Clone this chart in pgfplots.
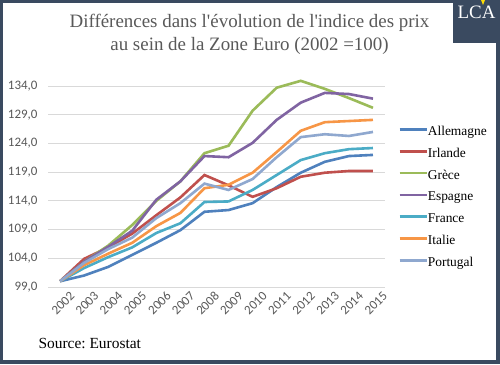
\documentclass[border=0pt]{standalone}
\usepackage{pgfplots}
\pgfplotsset{compat=1.18}
\usepackage{fontspec}
\setmainfont{Liberation Serif}[Ligatures=TeXOff]
\newfontfamily\carlito{Carlito}
\frenchspacing
\definecolor{navy}{RGB}{58,74,96}
\definecolor{txtgray}{RGB}{89,89,89}
\definecolor{gridgray}{RGB}{217,217,217}
\definecolor{cAll}{RGB}{79,129,189}
\definecolor{cIrl}{RGB}{192,80,77}
\definecolor{cGre}{RGB}{155,187,89}
\definecolor{cEsp}{RGB}{128,100,162}
\definecolor{cFra}{RGB}{75,172,198}
\definecolor{cIta}{RGB}{247,150,70}
\definecolor{cPor}{RGB}{143,168,207}
\begin{document}
\begin{tikzpicture}
\begin{scope}[x=1bp,y=1bp]
\useasboundingbox (0,0) rectangle (500,364);
\fill[navy] (0,0) rectangle (500,364);
\fill[white] (3,4) rectangle (496,361);
\fill[navy] (453,321) rectangle (500,364);
\fill[yellow!80!orange] (481,364) -- (485,364) -- (483,359) -- cycle;
\node[text=white, font=\fontsize{19}{20}\selectfont] at (476.5,352) {LCA};
\node[text=txtgray, align=center, font=\fontsize{19}{23}\selectfont] at (249.5,330) {Différences dans l'évolution de l'indice des prix\\au sein de la Zone Euro (2002 =100)};
\node[anchor=west, font=\fontsize{15.5}{17}\selectfont] at (35,21) {Source: Eurostat};
\end{scope}
\begin{axis}[
  at={(48bp,77bp)}, anchor=south west,
  scale only axis, width=337bp, height=201bp,
  xmin=2001.5, xmax=2015.5, ymin=99, ymax=134,
  clip=false,
  xtick={2002,...,2015},
  ytick={99,104,...,134},
  axis line style={draw=none},
  major tick length=0pt,
  ymajorgrids, grid style={draw=gridgray, line width=0.8bp},
  /pgf/number format/assume math mode=true,
  tick label style={font=\carlito\fontsize{13}{14}\selectfont, text=txtgray},
  xticklabel style={/pgf/number format/1000 sep={}, rotate=45, anchor=north east, inner sep=1bp, yshift=-8bp, xshift=5bp},
  yticklabel style={/pgf/number format/.cd, fixed, fixed zerofill, precision=1, use comma, /tikz/.cd, xshift=-7bp},
  legend style={draw=none, fill=none, at={(axis description cs:1.0386,0.80)}, anchor=north west,
    font=\fontsize{13.5}{15}\selectfont, row sep=9.8bp, inner sep=0pt,
    nodes={inner sep=0pt, text height=9bp, text depth=3bp},
    /tikz/every even column/.append style={column sep=3bp}},
  legend cell align=left,
  legend image code/.code={\draw[#1, line width=2.6bp] (0bp,3bp) -- (27bp,3bp);},
  every axis plot/.append style={line width=2.6bp},
]
\addplot[cAll] coordinates {(2002,100)(2003,101.0)(2004,102.5)(2005,104.6)(2006,106.7)(2007,108.9)(2008,112.1)(2009,112.4)(2010,113.6)(2011,116.4)(2012,118.9)(2013,120.8)(2014,121.8)(2015,122.0)};
\addplot[cIrl] coordinates {(2002,100)(2003,103.9)(2004,105.9)(2005,108.3)(2006,111.5)(2007,114.6)(2008,118.5)(2009,116.7)(2010,114.7)(2011,116.2)(2012,118.2)(2013,118.9)(2014,119.2)(2015,119.2)};
\addplot[cGre] coordinates {(2002,100)(2003,103.4)(2004,106.2)(2005,109.8)(2006,114.0)(2007,117.4)(2008,122.3)(2009,123.6)(2010,129.7)(2011,133.7)(2012,134.9)(2013,133.5)(2014,131.9)(2015,130.2)};
\addplot[cEsp] coordinates {(2002,100)(2003,103.4)(2004,106.0)(2005,108.8)(2006,114.2)(2007,117.4)(2008,121.8)(2009,121.6)(2010,124.1)(2011,128.1)(2012,131.1)(2013,132.8)(2014,132.6)(2015,131.8)};
\addplot[cFra] coordinates {(2002,100)(2003,102.3)(2004,104.2)(2005,105.9)(2006,108.4)(2007,110.1)(2008,113.8)(2009,113.9)(2010,115.9)(2011,118.5)(2012,121.1)(2013,122.3)(2014,123.0)(2015,123.2)};
\addplot[cIta] coordinates {(2002,100)(2003,102.8)(2004,104.8)(2005,106.7)(2006,109.6)(2007,111.9)(2008,116.2)(2009,116.8)(2010,118.9)(2011,122.5)(2012,126.2)(2013,127.7)(2014,127.9)(2015,128.1)};
\addplot[cPor] coordinates {(2002,100)(2003,103.2)(2004,105.6)(2005,107.6)(2006,111.0)(2007,113.6)(2008,117.0)(2009,115.9)(2010,117.8)(2011,121.6)(2012,125.1)(2013,125.6)(2014,125.3)(2015,126.0)};
\legend{Allemagne,Irlande,Grèce,Espagne,France,Italie,Portugal}
\end{axis}
\end{tikzpicture}
\end{document}
